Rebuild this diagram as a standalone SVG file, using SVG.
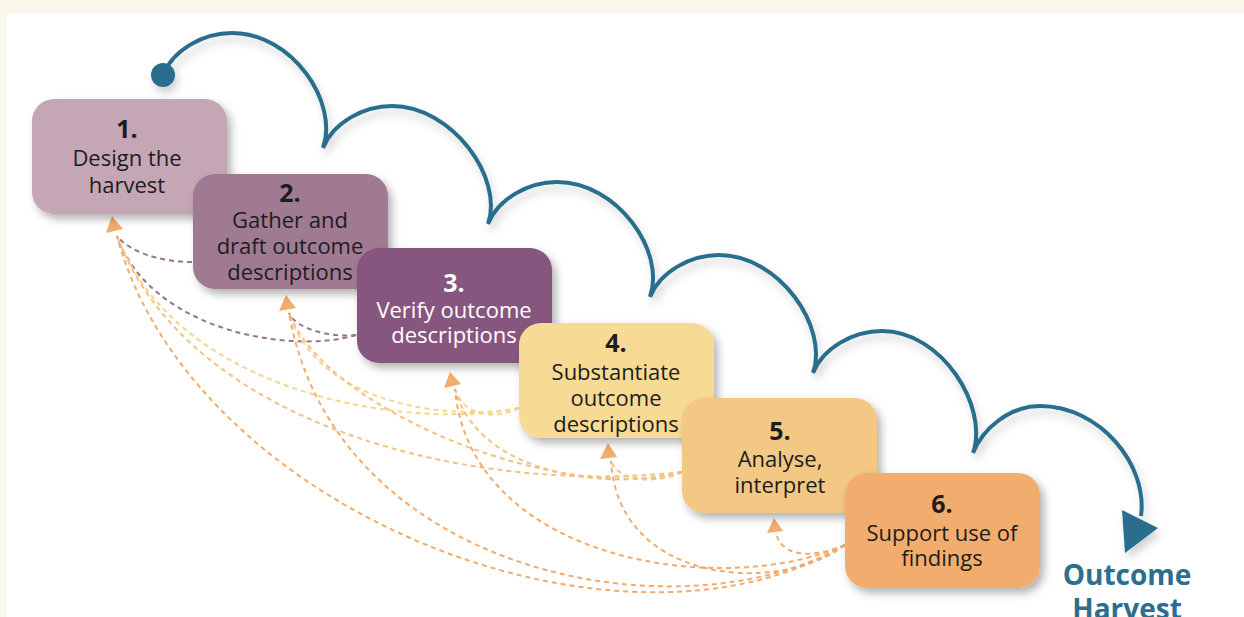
<svg xmlns="http://www.w3.org/2000/svg" width="1244" height="617" viewBox="0 0 1244 617">
<defs>
<filter id="bsh" x="-20%" y="-20%" width="150%" height="150%"><feDropShadow dx="4" dy="5" stdDeviation="4" flood-color="#000" flood-opacity="0.3"/></filter>
<filter id="lsh" x="-10%" y="-10%" width="130%" height="130%"><feDropShadow dx="3" dy="6" stdDeviation="4" flood-color="#000" flood-opacity="0.18"/></filter>
</defs>
<style>
.t{font-family:"Open Sans","Liberation Sans",sans-serif;font-size:22px;fill:#1d1d1d;text-anchor:middle}
.n{font-weight:700;font-size:25px}
.w{fill:#ffffff}
.d{fill:none;stroke-width:2;stroke-dasharray:5 4}
.p{stroke:#9a7294}
.y{stroke:#f6d58c}
.o5{stroke:#f3c281}
.o6{stroke:#f2ab6c}
.ah{fill:#f3ac6c}
.box{filter:url(#bsh)}
</style>
<rect x="0" y="0" width="1244" height="617" fill="#faf7eb"/>
<rect x="7" y="13" width="1237" height="604" fill="#ffffff"/>

<g id="flow" filter="url(#lsh)">
<path d="M163,75 C173,50 203,33 232,33 C292,33 339,102 323,148 C333,123 363,106 392,106 C452,106 504,178 488,224 C498,199 528,182 557,182 C617,182 666,251 650,297 C660,272 690,255 719,255 C779,255 829,327 813,373 C823,348 853,331 882,331 C942,331 989,407 973,453 C983,428 1010,406 1040,406 C1100,406 1148,465 1141,516" fill="none" stroke="#2c6e8e" stroke-width="4" stroke-linejoin="miter"/>
<circle cx="163" cy="75" r="12" fill="#2c6e8e"/>
<polygon points="1122,510 1158,528 1125,553" fill="#2c6e8e"/>
</g>

<g id="connectors">
<path class="d p" d="M192,262 C160,262 130,252 117,236"/>
<path class="d p" d="M356,335 C290,355 150,330 117,236"/>
<path class="d p" d="M356,335 C335,338 296,330 289,313"/>
<path class="d y" d="M519,408 C420,430 180,400 117,236"/>
<path class="d y" d="M519,408 C460,420 320,410 289,313"/>
<path class="d y" d="M519,408 C500,418 465,420 455,389"/>
<path class="d o5" d="M682,472 C480,495 190,430 117,236"/>
<path class="d o5" d="M682,472 C560,505 325,410 289,313"/>
<path class="d o5" d="M682,472 C620,490 480,480 455,389"/>
<path class="d o5" d="M682,472 C665,482 620,485 611,461"/>
<path class="d o6" d="M845,545 C620,680 190,510 117,236"/>
<path class="d o6" d="M845,545 C680,640 335,575 289,313"/>
<path class="d o6" d="M845,545 C720,600 470,560 455,389"/>
<path class="d o6" d="M845,545 C780,595 618,585 611,461"/>
<path class="d o6" d="M845,545 C820,556 785,560 777,536"/>
<polygon class="ah" points="106,233 112,216 123,229"/>
<polygon class="ah" points="279,311 286,295 296,308"/>
<polygon class="ah" points="444,388 450,372 461,384"/>
<polygon class="ah" points="600,459 608,443 617,457"/>
<polygon class="ah" points="767,533 774,518 783,531"/>
</g>

<g id="node1">
<rect class="box" x="32" y="99" width="195" height="115" rx="22" fill="#c5a6b4"/>
<text class="t n" x="127" y="138">1.</text>
<text class="t" x="127" y="166">Design the</text>
<text class="t" x="127" y="193">harvest</text>
</g>
<g id="node2">
<rect class="box" x="193" y="174" width="195" height="115" rx="22" fill="#a07a92"/>
<text class="t n" x="290" y="202">2.</text>
<text class="t" x="290" y="228">Gather and</text>
<text class="t" x="290" y="254">draft outcome</text>
<text class="t" x="290" y="280">descriptions</text>
</g>
<g id="node3">
<rect class="box" x="357" y="248" width="195" height="115" rx="22" fill="#87567e"/>
<text class="t n w" x="454" y="292">3.</text>
<text class="t w" x="454" y="318">Verify outcome</text>
<text class="t w" x="454" y="343">descriptions</text>
</g>
<g id="node4">
<rect class="box" x="519" y="323" width="195" height="115" rx="22" fill="#f7da94"/>
<text class="t n" x="616" y="352">4.</text>
<text class="t" x="616" y="380">Substantiate</text>
<text class="t" x="616" y="406">outcome</text>
<text class="t" x="616" y="432">descriptions</text>
</g>
<g id="node5">
<rect class="box" x="682" y="398" width="195" height="115" rx="22" fill="#f3c784"/>
<text class="t n" x="780" y="440">5.</text>
<text class="t" x="780" y="467">Analyse,</text>
<text class="t" x="780" y="493">interpret</text>
</g>
<g id="node6">
<rect class="box" x="845" y="473" width="195" height="115" rx="22" fill="#f2ad6e"/>
<text class="t n" x="942" y="513">6.</text>
<text class="t" x="942" y="541">Support use of</text>
<text class="t" x="942" y="566">findings</text>
</g>

<g id="title">
<text x="1127" y="585" style="font-family:'Open Sans','Liberation Sans',sans-serif;font-size:28px;font-weight:700;fill:#2c6e8e;text-anchor:middle">Outcome</text>
<text x="1127" y="619" style="font-family:'Open Sans','Liberation Sans',sans-serif;font-size:28px;font-weight:700;fill:#2c6e8e;text-anchor:middle">Harvest</text>
</g>
</svg>
